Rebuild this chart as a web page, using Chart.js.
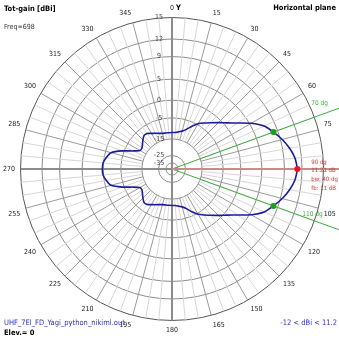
<!DOCTYPE html>
<html>
<head>
<meta charset="utf-8">
<script src="https://cdn.jsdelivr.net/npm/chart.js@4.4.1/dist/chart.umd.min.js"></script>
<style>
  html, body { margin: 0; padding: 0; background: #fff; }
  canvas { display: block; }
</style>
</head>
<body>
<canvas id="chart" width="339" height="339"></canvas>
<script>
// azimuth in degrees, 0 = Y (top), clockwise
const azimuth = [
  0, 5, 10, 15, 20, 25, 30, 35, 40, 45, 50, 55,
  60, 65, 70, 75, 80, 85, 90, 95, 100, 105, 110, 115,
  120, 125, 130, 135, 140, 145, 150, 155, 160, 165, 170, 175,
  180, 185, 190, 195, 200, 205, 210, 215, 220, 225, 230, 235,
  240, 245, 250, 255, 260, 265, 270, 275, 280, 285, 290, 295,
  300, 305, 310, 315, 320, 325, 330, 335, 340, 345, 350, 355
];

// total gain in dBi at each azimuth
const totGain = [
  -12.0, -11.9, -11.4, -10.7, -9.3, -6.9, -4.7, -3.6, -2.4, -0.9, 0.7, 2.7,
  5.3, 7.1, 8.21, 9.3, 10.2, 10.9, 11.21, 10.9, 10.2, 9.3, 8.21, 7.1,
  5.3, 2.7, 0.7, -0.9, -2.4, -3.6, -4.7, -6.9, -9.3, -10.7, -11.4, -11.9,
  -12.0, -12.0, -11.95, -11.8, -11.3, -10.6, -9.8, -8.7, -8.6, -9.8, -11.0, -11.9,
  -11.7, -9.0, -4.5, -1.6, -0.6, 0.1, 0.21, 0.1, -0.6, -1.6, -4.5, -9.0,
  -11.7, -11.9, -11.0, -9.8, -8.6, -8.7, -9.8, -10.6, -11.3, -11.8, -11.95, -12.0
];

// azimuth labels printed round the outer ring
const shownAzimuth = [0, 15, 30, 45, 60, 75, 105, 120, 135, 150, 165, 180,
  195, 210, 225, 240, 255, 270, 285, 300, 315, 330, 345];

// dBi rings and where they sit (fraction of outer radius, log-like scale)
const ringValues = [-35, -25, -15, -5, 0, 5, 9, 12, 15];
const ringFractions = [0.04, 0.089, 0.199, 0.338, 0.454, 0.593, 0.742, 0.858, 1];

// main lobe markers
const peakAzimuth = 90;
const peakGain = 11.21;
const halfPowerAzimuth = [70, 110];
const halfPowerGain = 8.21;
const beamWidth = 40;
const frontToBack = 11;

const FONT = "'Liberation Sans Narrow', 'DejaVu Sans Condensed', 'Liberation Sans', sans-serif";

function ringFraction(v) {
  if (v <= ringValues[0]) return ringFractions[0];
  for (let i = 1; i < ringValues.length; i++) {
    if (v <= ringValues[i]) {
      const t = (v - ringValues[i - 1]) / (ringValues[i] - ringValues[i - 1]);
      return ringFractions[i - 1] + t * (ringFractions[i] - ringFractions[i - 1]);
    }
  }
  return 1;
}

// radial scale with the 4nec2 style compressed dB rings
class ArrlScale extends Chart.RadialLinearScale {
  getDistanceFromCenterForValue(value) {
    if (value === null || value === undefined || isNaN(value)) return NaN;
    return this.drawingArea * ringFraction(value);
  }
  drawLabels() {
    // tick numbers sit just left of the vertical axis
    this.ctx.save();
    this.ctx.translate(-13, 0);
    super.drawLabels();
    this.ctx.restore();
  }
}
ArrlScale.id = 'arrl';
Chart.register(ArrlScale);

// spokes start at the -15 ring, only the axes reach the centre
function spokeColor(ctx) {
  const i = ctx.index;
  if (i % 18 === 0) return '#8c8c8c';
  const s = ctx.chart.scales.r;
  const col = i % 3 === 0 ? '#9a9a9a' : '#d6d6d6';
  const f = ringFraction(-15);
  const g = ctx.chart.ctx.createRadialGradient(s.xCenter, s.yCenter, 0, s.xCenter, s.yCenter, s.drawingArea);
  g.addColorStop(0, 'rgba(255,255,255,0)');
  g.addColorStop(f, 'rgba(255,255,255,0)');
  g.addColorStop(Math.min(f + 0.002, 1), col);
  g.addColorStop(1, col);
  return g;
}

const markerData = azimuth.map(a => {
  if (a === peakAzimuth) return peakGain;
  if (halfPowerAzimuth.includes(a)) return halfPowerGain;
  return null;
});

// lines from the centre and the text round the plot
const overlay = {
  id: 'overlay',
  beforeDatasetsDraw(chart) {
    const s = chart.scales.r;
    const ctx = chart.ctx;
    ctx.save();
    ctx.lineWidth = 1;
    ctx.strokeStyle = '#3cae3c';
    halfPowerAzimuth.forEach(a => {
      const p = s.getPointPosition(azimuth.indexOf(a), s.drawingArea * 1.25);
      ctx.beginPath();
      ctx.moveTo(s.xCenter, s.yCenter);
      ctx.lineTo(p.x, p.y);
      ctx.stroke();
    });
    ctx.strokeStyle = '#c98b8b';
    ctx.lineWidth = 2;
    const pk = s.getPointPosition(azimuth.indexOf(peakAzimuth), s.drawingArea * 1.25);
    ctx.beginPath();
    ctx.moveTo(s.xCenter, s.yCenter);
    ctx.lineTo(pk.x, pk.y);
    ctx.stroke();
    ctx.restore();
  },
  afterDraw(chart) {
    const s = chart.scales.r;
    const ctx = chart.ctx;
    ctx.save();
    ctx.textBaseline = 'middle';

    ctx.fillStyle = '#000';
    ctx.font = 'bold 7.5px ' + FONT;
    ctx.textAlign = 'left';
    ctx.fillText('Tot-gain [dBi]', 4, 9);
    ctx.fillText('Elev.= 0', 4, 333);
    ctx.fillText('Y', s.xCenter + 4, 8);
    ctx.textAlign = 'right';
    ctx.fillText('Horizontal plane', 336, 8);

    ctx.font = '7px ' + FONT;
    ctx.textAlign = 'left';
    ctx.fillStyle = '#333';
    ctx.fillText('Freq=698', 4, 27);
    ctx.fillStyle = '#2d2dc8';
    ctx.font = '7.5px ' + FONT;
    ctx.fillText('UHF_7El_FD_Yagi_python_nikiml.out', 4, 323);
    ctx.textAlign = 'right';
    ctx.fillText(Math.round(Math.min(...totGain)) + ' < dBi < ' + Math.max(...totGain).toFixed(1), 337, 323);

    // peak info
    const pk = s.getPointPosition(azimuth.indexOf(peakAzimuth), s.drawingArea * 0.92);
    ctx.font = '6px ' + FONT;
    ctx.textAlign = 'left';
    ctx.fillStyle = '#d23232';
    ctx.fillText(peakAzimuth + ' dg', pk.x, pk.y - 7);
    ctx.fillText(peakGain.toFixed(2) + ' dB', pk.x, pk.y + 1);
    ctx.fillText('bw: ' + beamWidth + ' dg', pk.x, pk.y + 10.5);
    ctx.fillText('fb: ' + frontToBack + ' dB', pk.x, pk.y + 19.5);

    // half power labels
    ctx.font = '6.5px ' + FONT;
    ctx.fillStyle = '#3cae3c';
    const h1 = s.getPointPosition(azimuth.indexOf(halfPowerAzimuth[0]), s.drawingArea * 1.02);
    ctx.fillText(halfPowerAzimuth[0] + ' dg', h1.x - 6, h1.y - 13);
    const h2 = s.getPointPosition(azimuth.indexOf(halfPowerAzimuth[1]), s.drawingArea * 1.02);
    ctx.fillText(halfPowerAzimuth[1] + ' dg', h2.x - 15, h2.y - 8);
    ctx.restore();
  }
};

new Chart(document.getElementById('chart'), {
  type: 'radar',
  data: {
    labels: azimuth,
    datasets: [
      {
        label: 'markers',
        data: markerData,
        order: 0,
        showLine: false,
        pointRadius: 3,
        pointBorderWidth: 0,
        pointBackgroundColor: ctx => azimuth[ctx.dataIndex] === peakAzimuth ? '#e8141e' : '#1e9e1e'
      },
      {
        label: 'Tot-gain',
        data: totGain,
        order: 1,
        borderColor: '#1c1c9a',
        borderWidth: 1.6,
        backgroundColor: 'transparent',
        fill: false,
        pointRadius: 0,
        tension: 0.15
      }
    ]
  },
  options: {
    responsive: false,
    animation: false,
    events: [],
    layout: { padding: 0 },
    plugins: {
      legend: { display: false },
      tooltip: { enabled: false }
    },
    scales: {
      r: {
        type: 'arrl',
        min: -35,
        max: 15,
        afterBuildTicks: scale => {
          scale.ticks = ringValues.map(v => ({ value: v }));
        },
        grid: {
          circular: true,
          color: ctx => ctx.tick && ctx.tick.value === 15 ? '#555' : '#8c8c8c',
          lineWidth: 1
        },
        angleLines: {
          color: spokeColor,
          lineWidth: ctx => ctx.index % 18 === 0 ? 2 : 1
        },
        pointLabels: {
          color: '#222',
          padding: 2,
          font: { family: FONT, size: 7 },
          callback: label => shownAzimuth.includes(label) ? String(label) : ''
        },
        ticks: {
          color: '#444',
          showLabelBackdrop: false,
          backdropPadding: 0,
          font: { family: FONT, size: 7 },
          callback: v => String(v)
        }
      }
    }
  },
  plugins: [overlay]
});
</script>
</body>
</html>
